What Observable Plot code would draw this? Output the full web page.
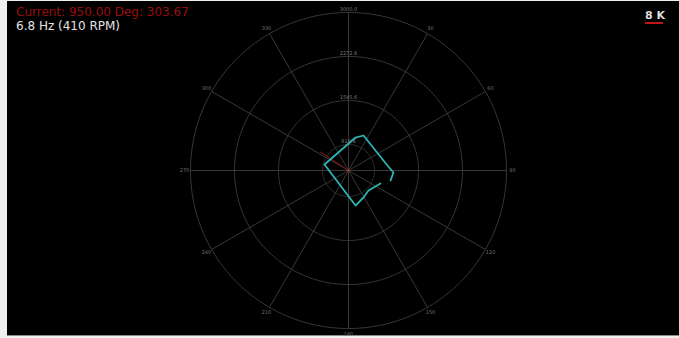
<!DOCTYPE html>
<html><head><meta charset="utf-8">
<script src="https://cdn.jsdelivr.net/npm/d3@7"></script>
<script src="https://cdn.jsdelivr.net/npm/@observablehq/plot@0.6"></script>
<style>
body{margin:0;background:#f0f0f0;width:679px;height:338px;position:relative;overflow:hidden;font-family:"DejaVu Sans",sans-serif}
#panel{position:absolute;left:7px;top:1px;width:672px;height:334px;background:#000;border-bottom:1px solid #8a8a8a}
#chart{position:absolute;left:0;top:0}
.t{position:absolute;white-space:nowrap;font-size:12px;line-height:12px;height:12px}
#scale{position:absolute;left:645px;top:9px;font-size:11px;line-height:13px;font-weight:bold;color:#dedede}
#scaleBar{position:absolute;left:645px;top:22px;width:18px;height:2px;background:#c01515}
</style></head><body>
<div id="panel"></div>
<div id="chart"></div>
<div class="t" id="cur" style="left:16px;top:6px;color:#9a0e0e"></div>
<div class="t" id="spd" style="left:16px;top:20px;color:#e4e4e4"></div>
<div id="scale"></div><div id="scaleBar"></div>
<script>
// ---- data ----
const ringValues = [818.4, 1545.6, 2272.8, 3000.0];
const radialMin = 388.7;           // value at the centre
const radialMax = 3000.0;          // value at the outer ring
const angleTicks = [0, 30, 60, 90, 120, 150, 180, 210, 240, 270, 300, 330];
const scanAngles = [284.0, 12.0, 23.2, 82.7, 92.5, 103.4, null, 112.1, 135.0, 151.0, 168.7, 284.0];
const scanRanges = [797, 946, 1018, 1038, 1132, 1103, null, 959, 856, 899, 979, 797];
const currentValue = 950.00;
const currentAngle = 303.67;
const speedHz = 6.8;
const speedRpm = 410;
const scaleText = "8 K";

document.getElementById("cur").textContent = `Current: ${currentValue.toFixed(2)} Deg: ${currentAngle.toFixed(2)}`;
document.getElementById("spd").textContent = `${speedHz} Hz (${speedRpm} RPM)`;
document.getElementById("scale").textContent = scaleText;

const rad = v => (v - radialMin) / (radialMax - radialMin);   // degrees of arc, outer ring = 1
const lon = a => 180 - a;
const lat = v => 90 - rad(v);
const scan = scanAngles.map((a, i) => ({a, r: scanRanges[i]}));
const grid = "#383838";

const chart = Plot.plot({
  width: 679, height: 338,
  marginLeft: 182, marginRight: 165, marginTop: 4, marginBottom: 2,
  style: {background: "transparent", color: "#777", fontFamily: "DejaVu Sans"},
  projection: {
    type: "azimuthal-equidistant",
    rotate: [0, -90],
    domain: d3.geoCircle().center([0, 90]).radius(166 / 158)()
  },
  marks: [
    Plot.geo(ringValues, {geometry: v => d3.geoCircle().center([0, 90]).radius(rad(v)).precision(1)(), fill: "none", stroke: grid, strokeWidth: 1}),
    Plot.link(angleTicks, {x1: a => lon(a), y1: 90, x2: a => lon(a), y2: 89, stroke: grid, strokeWidth: 1}),
    Plot.text(angleTicks.filter(a => a !== 0), {x: a => lon(a), y: 90 - 164 / 158, text: a => String(a), fontSize: 5, fill: "#707070"}),
    Plot.text(ringValues, {x: 180, y: v => lat(v), dy: -3.5, text: v => v.toFixed(1), fontSize: 5, fill: "#7a7a7a"}),
    Plot.link([currentAngle], {x1: 0, y1: 90, x2: a => lon(a), y2: lat(currentValue), stroke: "#6a1212", strokeWidth: 1.3}),
    Plot.line(scan, {x: d => d.a == null ? NaN : lon(d.a), y: d => d.r == null ? NaN : lat(d.r), stroke: "#2fb3b3", strokeWidth: 1.8}),
    Plot.dot([0], {x: 0, y: 90, r: 1.3, fill: "#a33a3a"})
  ]
});
document.getElementById("chart").appendChild(chart);
</script>
</body></html>
